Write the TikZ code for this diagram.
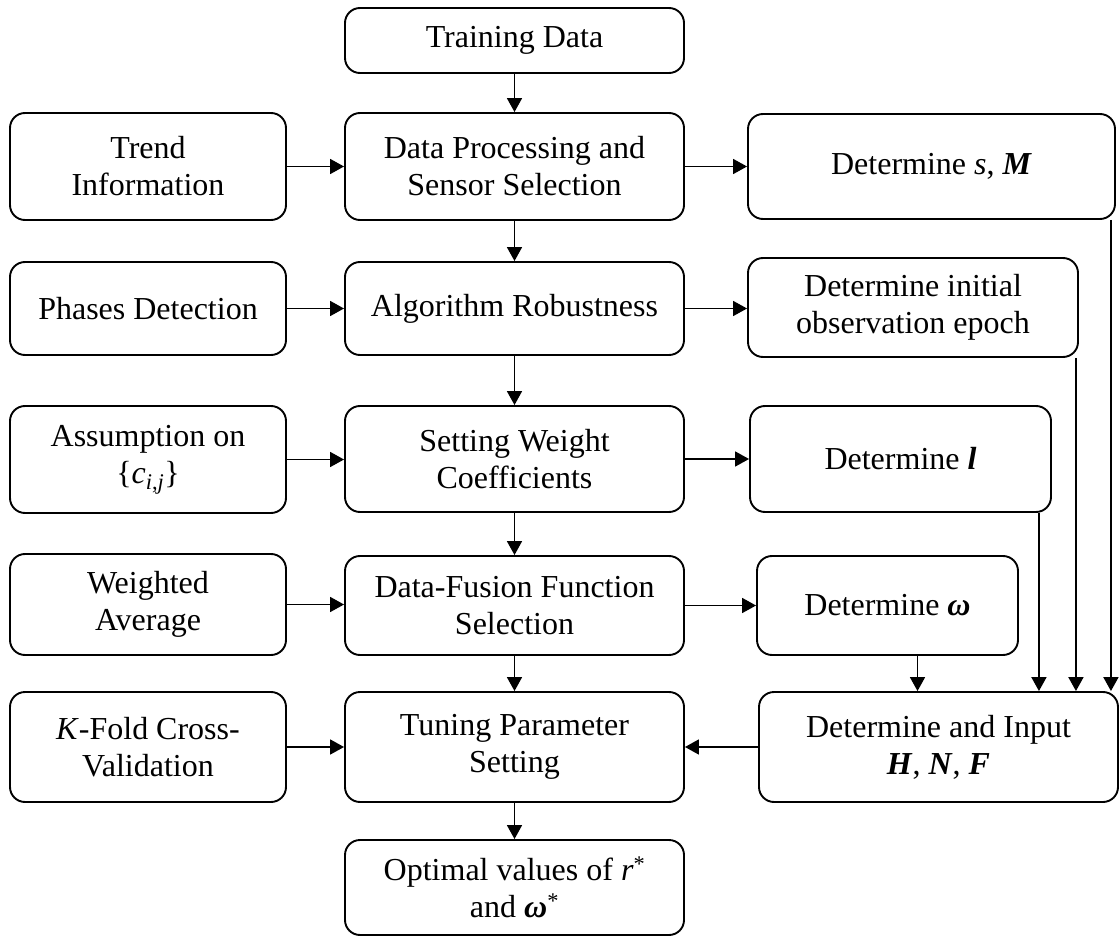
\documentclass[tikz,border=0pt]{standalone}
\usepackage{fontspec}
\setmainfont{Liberation Serif}
\usetikzlibrary{arrows.meta}
\newcommand{\bolditx}[1]{\textbf{\textit{#1}}}
\begin{document}
\begin{tikzpicture}[x=1pt,y=-1pt,
  box/.style={draw, rounded corners=15pt, line width=1.9pt, align=center,
    inner sep=0pt, font=\fontsize{32}{37}\selectfont},
  arr/.style={line width=1.8pt, -{Triangle[length=14pt,width=15pt]}}]
\useasboundingbox (0,0) rectangle (1120,936);

% centre column: main pipeline
\node[box, minimum width=339pt, minimum height=65pt]  (train) at (514.5,40.5)  {Training Data};
\node[box, minimum width=339pt, minimum height=107pt] (dp)    at (514.5,166.5) {Data Processing and\\Sensor Selection};
\node[box, minimum width=339pt, minimum height=93pt]  (ar)    at (514.5,308.5) {Algorithm Robustness};
\node[box, minimum width=339pt, minimum height=106pt] (swc)   at (514.5,459)   {Setting Weight\\Coefficients};
\node[box, minimum width=339pt, minimum height=99pt]  (dffs)  at (514.5,605.5) {Data-Fusion Function\\Selection};
\node[box, minimum width=339pt, minimum height=110pt] (tps)   at (514.5,747)   {Tuning Parameter\\Setting};
\node[box, minimum width=339pt, minimum height=95pt]  (opt)   at (514.5,887.5) {Optimal values of \textit{r}\textsuperscript{*}\\and \bolditx{ω}\textsuperscript{*}};

% left column: inputs
\node[box, minimum width=276pt, minimum height=107pt] (trend)  at (148,166.5) {Trend\\Information};
\node[box, minimum width=276pt, minimum height=93pt]  (phases) at (148,308.5) {Phases Detection};
\node[box, minimum width=276pt, minimum height=107pt] (assump) at (148,459.5) {Assumption on\\\{\textit{c}\textsubscript{\textit{i},\textit{j}}\}};
\node[box, minimum width=276pt, minimum height=101pt] (wa)     at (148,604.5) {Weighted\\Average};
\node[box, minimum width=276pt, minimum height=110pt] (kfold)  at (148,747)   {\textit{K}-Fold Cross-\\Validation};

% right column: determined quantities
\node[box, minimum width=367pt, minimum height=105pt] (sm)   at (931.5,166.5) {Determine \textit{s}, \bolditx{M}};
\node[box, minimum width=330pt, minimum height=99pt]  (init) at (913,307.5)   {Determine initial\\observation epoch};
\node[box, minimum width=301pt, minimum height=106pt] (dl)   at (900.5,459)   {Determine \bolditx{l}};
\node[box, minimum width=261pt, minimum height=99pt]  (om)   at (887.5,605.5) {Determine \bolditx{ω}};
\node[box, minimum width=359pt, minimum height=110pt] (hnf)  at (938.5,747)   {Determine and Input\\\bolditx{H}, \bolditx{N}, \bolditx{F}};

% vertical flow in the centre
\draw[arr] (train.south) -- (dp.north);
\draw[arr] (dp.south) -- (ar.north);
\draw[arr] (ar.south) -- (swc.north);
\draw[arr] (swc.south) -- (dffs.north);
\draw[arr] (dffs.south) -- (tps.north);
\draw[arr] (tps.south) -- (opt.north);

% inputs into the centre
\draw[arr] (trend.east)  -- (trend.east -| dp.west);
\draw[arr] (phases.east) -- (phases.east -| ar.west);
\draw[arr] (assump.east) -- (assump.east -| swc.west);
\draw[arr] (wa.east)     -- (wa.east -| dffs.west);
\draw[arr] (kfold.east)  -- (kfold.east -| tps.west);

% centre to the right column
\draw[arr] (dp.east)   -- (dp.east -| sm.west);
\draw[arr] (ar.east)   -- (ar.east -| init.west);
\draw[arr] (swc.east)  -- (swc.east -| dl.west);
\draw[arr] (dffs.east) -- (dffs.east -| om.west);
\draw[arr] (hnf.west)  -- (hnf.west -| tps.east);

% collected quantities into the input box
\draw[arr] ([xshift=30pt]om.south) -- ([xshift=30pt]om.south |- hnf.north);
\draw[arr] ([xshift=-13pt]dl.south east) -- ([xshift=-13pt]dl.south east |- hnf.north);
\draw[arr] ([xshift=-3pt]init.south east) -- ([xshift=-3pt]init.south east |- hnf.north);
\draw[arr] ([xshift=-5pt]sm.south east) -- ([xshift=-5pt]sm.south east |- hnf.north);
\end{tikzpicture}
\end{document}
